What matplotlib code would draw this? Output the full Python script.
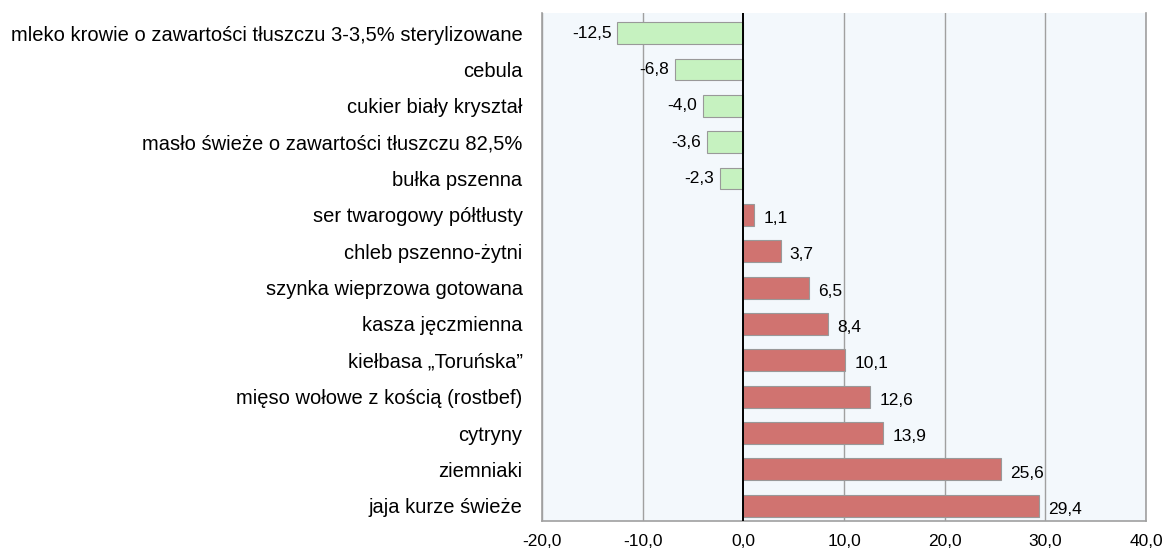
import matplotlib.pyplot as plt
from matplotlib.ticker import FuncFormatter

plt.rcParams['font.family'] = ['Liberation Sans', 'DejaVu Sans']

labels = [
    'mleko krowie o zawartości tłuszczu 3-3,5% sterylizowane',
    'cebula',
    'cukier biały kryształ',
    'masło świeże o zawartości tłuszczu 82,5%',
    'bułka pszenna',
    'ser twarogowy półtłusty',
    'chleb pszenno-żytni',
    'szynka wieprzowa gotowana',
    'kasza jęczmienna',
    'kiełbasa „Toruńska”',
    'mięso wołowe z kością (rostbef)',
    'cytryny',
    'ziemniaki',
    'jaja kurze świeże',
]
values = [-12.5, -6.8, -4.0, -3.6, -2.3, 1.1, 3.7, 6.5, 8.4, 10.1, 12.6, 13.9, 25.6, 29.4]
xticks = [-20, -10, 0, 10, 20, 30, 40]

fig = plt.figure(figsize=(11.62, 5.49), dpi=100)
ax = fig.add_axes([0.4664, 0.051, 0.52, 0.925])
ax.set_facecolor('#f3f8fc')

pos = list(range(len(values)))
colors = ['#c6f2c0' if v < 0 else '#d07370' for v in values]
ax.barh(pos, values, height=0.6, color=colors, edgecolor='#999999', linewidth=0.8, zorder=3)

for p, v in zip(pos, values):
    txt = f'{v:.1f}'.replace('.', ',')
    if v < 0:
        ax.text(v - 0.6, p, txt, ha='right', va='center', fontsize=12.5, zorder=4)
    else:
        ax.text(v + 0.9, p + 0.1, txt, ha='left', va='center', fontsize=12.5, zorder=4)

ax.set_xlim(-20, 40)
ax.set_ylim(13.42, -0.55)
ax.set_xticks(xticks)
ax.xaxis.set_major_formatter(FuncFormatter(lambda x, _: f'{x:.1f}'.replace('.', ',')))
ax.set_yticks(pos)
ax.set_yticklabels(labels, fontsize=14.5)
ax.tick_params(axis='both', length=0)
ax.tick_params(axis='x', labelsize=12.5, pad=9)
ax.tick_params(axis='y', pad=14)

for x in xticks:
    if x == 0:
        ax.axvline(0, color='black', linewidth=1.4, zorder=5)
    else:
        ax.axvline(x, color='#a0a0a0', linewidth=1.0, zorder=1)

ax.spines['top'].set_visible(False)
for s in ['left', 'bottom', 'right']:
    ax.spines[s].set_color('#a0a0a0')
    ax.spines[s].set_linewidth(1.2)

fig.savefig('out.png', dpi=100)
